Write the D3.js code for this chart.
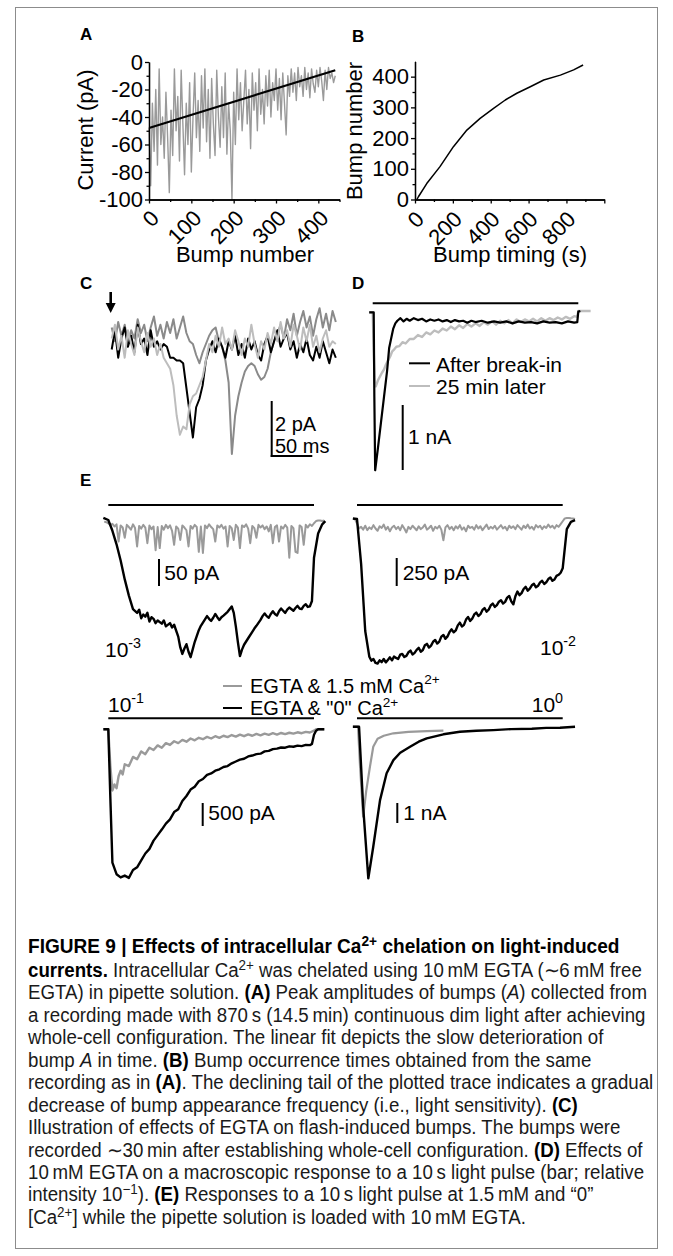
<!DOCTYPE html>
<html>
<head>
<meta charset="utf-8">
<script src="https://cdn.jsdelivr.net/npm/d3@7"></script>
<style>
body { margin: 0; background: #fff; }
svg text { font-family: "Liberation Sans", Arial, Helvetica, sans-serif; }
</style>
</head>
<body>
<svg id="fig" width="673" height="1256"></svg>
<script>

// ---- data ----

// A: peak amplitude (pA) of every 4th bump
var bumpAmp = [-48,-90,-30,-65,-20,-75,-5,-60,-40,-70,-22,-55,-95,-35,-68,-5,-50,-25,-72,-6,
  -45,-82,-30,-60,-15,-80,-40,-8,-55,-28,-65,-10,-48,-5,-58,-20,-70,-12,-45,-68,
  -6,-40,-62,-18,-55,-8,-67,-30,-50,-100,-22,-60,-5,-42,-15,-50,-28,-6,-45,-20,
  -63,-8,-35,-15,-50,-5,-38,-20,-45,-10,-32,-6,-40,-15,-28,-5,-35,-12,-42,-8,
  -30,-53,-10,-25,-5,-22,-8,-28,-4,-18,-10,-25,-4,-20,-8,-26,-5,-16,-22,-6,
  -18,-4,-14,-28,-6,-20,-4,-12,-8,-15,-10];
var bumpStep = 4;
var fitStart = [0, -48], fitEnd = [440, -6];

// B: bump number vs time (s)
var bTime  = [10, 18, 62, 132, 203, 274, 344, 415, 477, 538, 609, 680, 768, 838, 888];
var bCount = [0, 9, 52, 107, 172, 226, 264, 297, 324, 346, 367, 389, 405, 422, 438];

// C: three bumps (pA), sampled every 4 ms
var cStep = 4;
var cLight = [-0.2,0.3,-0.6,-0.1,-0.9,0.1,-0.4,-0.8,0.2,-0.3,-0.7,0.0,-0.5,-0.2,-0.8,-0.4,-0.9,-1.1,-1.3,-1.9,
  -3.0,-3.7,-3.4,-3.5,-2.6,-2.3,-2.2,-1.9,-1.6,-1.0,-0.4,-0.7,-0.1,-0.5,0.2,-0.4,-0.2,-0.6,0.1,-0.3,
  -0.8,-0.2,-0.5,0.3,-0.4,-0.9,-0.3,-0.6,0.0,-0.4,0.2,-0.3,0.4,-0.2,0.1,-0.5,0.3,-0.1,-0.6,0.2,
  -0.3,0.3,-0.5,-0.1,-0.7,-0.2,0.1,-0.5,-0.3,-0.4];
var cBlack = [-0.6,0.1,-0.9,-0.2,0.2,-0.5,-0.1,-0.7,0.3,-0.4,-0.2,-0.8,0.1,-0.5,-0.3,-0.6,-0.4,-0.5,-0.9,-0.9,
  -1.0,-1.0,-1.1,-2.0,-2.9,-3.8,-2.7,-2.4,-1.9,-1.0,-0.6,-0.3,-0.7,-0.2,-0.5,-0.9,-0.3,-0.6,-0.1,-0.8,
  -0.4,-0.9,-0.2,-0.6,-0.3,-0.8,-1.0,-0.4,-0.1,-0.7,-0.3,0.1,-0.5,-0.2,0.0,-0.6,-0.3,-0.9,-0.4,-0.7,
  -0.2,-0.8,-1.0,-0.5,-0.9,-0.3,-0.7,-1.1,-0.6,-0.9];
var cDark = [0.2,-0.3,0.4,-0.1,0.3,-0.4,0.1,-0.2,0.5,0.0,0.3,-0.3,0.2,0.6,-0.1,0.3,-0.2,0.4,0.0,0.5,
  -0.2,0.2,0.6,0.0,-0.3,-0.4,-0.8,-1.1,-0.7,-0.4,-0.1,0.1,0.2,-0.3,-0.5,-1.0,-1.8,-4.4,-3.0,-2.3,
  -1.8,-1.4,-1.2,-1.1,-1.2,-1.5,-1.7,-1.6,-1.3,-0.7,-0.3,0.0,0.3,-0.2,0.5,0.1,0.7,-0.1,0.4,0.8,
  0.2,0.6,-0.1,0.5,0.9,0.2,0.7,0.1,0.8,0.4];

// D: macroscopic response (t s, nA)
var dBlack = [[-0.17,0],[0.05,0],[0.08,-1.3],[0.12,-2.43],[0.25,-2.1],[0.4,-1.7],[0.55,-1.3],[0.7,-0.9],
  [0.8,-0.55],[0.9,-0.4],[1.0,-0.25],[1.1,-0.17],[1.2,-0.13],[1.35,-0.09],[1.5,-0.14],[1.65,-0.1],
  [1.8,-0.13],[2.0,-0.09],[2.2,-0.12],[2.4,-0.1],[2.6,-0.14],[2.8,-0.11],[3.0,-0.13],[3.2,-0.11],
  [3.4,-0.14],[3.6,-0.12],[3.8,-0.15],[4.0,-0.12],[4.2,-0.14],[4.4,-0.13],[4.6,-0.16],[4.8,-0.13],
  [5.0,-0.15],[5.3,-0.13],[5.6,-0.16],[5.9,-0.14],[6.2,-0.16],[6.5,-0.14],[6.8,-0.17],[7.1,-0.14],
  [7.4,-0.16],[7.7,-0.15],[8.0,-0.17],[8.3,-0.14],[8.6,-0.16],[8.9,-0.15],[9.2,-0.17],[9.5,-0.14],
  [9.8,-0.16],[9.95,-0.15],[10.0,0.01],[10.1,0.02]];
var dGray = [[-0.17,0],[0.0,0],[0.05,-0.6],[0.1,-1.1],[0.15,-1.14],[0.25,-1.05],[0.35,-0.99],[0.45,-0.93],
  [0.55,-0.88],[0.65,-0.8],[0.75,-0.74],[0.85,-0.68],[0.95,-0.6],[1.05,-0.57],[1.15,-0.53],[1.3,-0.52],
  [1.45,-0.46],[1.6,-0.48],[1.8,-0.41],[2.0,-0.41],[2.2,-0.35],[2.4,-0.38],[2.6,-0.31],[2.8,-0.34],
  [3.0,-0.28],[3.2,-0.31],[3.4,-0.25],[3.6,-0.28],[3.8,-0.22],[4.0,-0.26],[4.2,-0.2],[4.4,-0.24],
  [4.6,-0.18],[4.8,-0.22],[5.0,-0.17],[5.2,-0.21],[5.4,-0.15],[5.6,-0.19],[5.8,-0.14],[6.0,-0.19],
  [6.2,-0.13],[6.4,-0.17],[6.6,-0.12],[6.8,-0.17],[7.0,-0.11],[7.2,-0.15],[7.4,-0.11],[7.6,-0.14],
  [7.8,-0.1],[8.0,-0.14],[8.2,-0.09],[8.4,-0.13],[8.6,-0.09],[8.8,-0.12],[9.0,-0.08],[9.2,-0.11],
  [9.4,-0.07],[9.6,-0.1],[9.8,-0.06],[9.95,-0.07],[10.0,0.02],[10.6,0.02]];

// E: responses to 10 s pulses (t s, pA or nA)
var eStep = 0.1, eStart = -0.2;
var e1Gray = [-3,-4,-6,-9,-7,-12,-8,-40,-10,-14,-33,-9,-13,-18,-8,-15,-49,-11,-16,-9,
  -14,-43,-10,-17,-12,-56,-13,-52,-11,-18,-9,-15,-10,-20,-46,-12,-16,-37,-10,-14,
  -19,-49,-11,-16,-9,-13,-59,-12,-61,-10,-15,-8,-13,-17,-40,-10,-14,-9,-16,-12,
  -49,-11,-15,-37,-9,-14,-52,-10,-13,-8,-16,-43,-11,-15,-33,-9,-14,-10,-17,-12,
  -21,-9,-43,-13,-10,-40,-12,-16,-9,-14,-70,-11,-15,-59,-61,-10,-13,-46,-9,-14,
  -8,-11,-6,-2,-1,-1,-2,-1];
var e1Black = [[-0.24,4],[0.0,0],[0.2,-20],[0.4,-45],[0.6,-75],[0.8,-110],[1.0,-140],[1.2,-165],
  [1.4,-172],[1.5,-166],[1.6,-182],[1.7,-175],[1.8,-179],[1.9,-172],[2.0,-188],[2.1,-180],[2.2,-183],
  [2.3,-191],[2.4,-186],[2.6,-192],[2.7,-186],[2.8,-197],[3.0,-191],[3.1,-199],[3.2,-194],
  [3.4,-216],[3.5,-236],[3.6,-248],[3.7,-238],[3.8,-230],[3.9,-244],[4.0,-254],[4.1,-240],[4.2,-226],
  [4.4,-204],[4.5,-196],[4.6,-190],[4.7,-184],[4.8,-178],[4.9,-183],
  [5.0,-187],[5.1,-181],[5.2,-174],[5.3,-180],[5.4,-185],[5.5,-180],[5.6,-177],[5.8,-170],[6.0,-160],
  [6.1,-172],[6.2,-197],[6.3,-226],[6.4,-252],[6.5,-240],[6.6,-231],[6.7,-225],
  [6.8,-219],[7.0,-207],[7.1,-201],[7.2,-196],[7.4,-185],[7.5,-178],[7.6,-173],[7.7,-178],[7.8,-181],
  [7.9,-174],[8.0,-169],[8.1,-174],[8.2,-177],[8.3,-169],[8.4,-164],[8.5,-168],
  [8.6,-172],[8.7,-166],[8.8,-162],[9.0,-168],[9.1,-163],[9.2,-159],[9.3,-164],[9.4,-165],[9.5,-159],
  [9.6,-156],[9.7,-161],[9.8,-160],[9.9,-150],[10.0,-70],[10.2,-25],[10.4,-8],[10.55,-2]];
var e2Gray = [0,0,-40,-85,-70,-95,-60,-100,-75,-90,-55,-85,-105,-65,-80,-50,-95,-70,-110,-75,
  -60,-90,-70,-100,-55,-85,-120,-70,-90,-60,-80,-100,-65,-90,-75,-50,-95,-80,-60,-105,
  -70,-85,-60,-95,-190,-75,-55,-90,-70,-100,-65,-85,-55,-95,-75,-110,-60,-80,-70,-95,
  -55,-85,-65,-100,-75,-50,-90,-70,-85,-60,-95,-75,-55,-85,-70,-100,-60,-80,-65,-90,
  -55,-75,-95,-60,-80,-50,-85,-70,-95,-55,-75,-60,-90,-65,-80,-50,-75,-60,-85,-55,
  -70,-45,-20,5,8,8,6,5,0];
var e2Black = [[-0.2,5],[0.0,0],[0.2,-400],[0.4,-1000],[0.6,-1230],[0.7,-1265],[0.8,-1250],[0.9,-1285],
  [1.0,-1290],[1.1,-1262],[1.2,-1278],[1.3,-1250],[1.4,-1280],[1.5,-1258],[1.6,-1235],[1.7,-1262],
  [1.8,-1228],[1.9,-1240],[2.0,-1250],[2.1,-1212],[2.2,-1205],[2.3,-1232],[2.4,-1222],[2.5,-1190],
  [2.6,-1175],[2.7,-1210],[2.8,-1195],[2.9,-1168],[3.0,-1150],[3.1,-1185],[3.2,-1170],[3.3,-1128],
  [3.4,-1115],[3.5,-1148],[3.6,-1130],[3.7,-1096],[3.8,-1080],[3.9,-1112],[4.0,-1095],[4.1,-1050],
  [4.2,-1035],[4.3,-1070],[4.4,-1048],[4.5,-1008],[4.6,-985],[4.7,-1012],[4.8,-995],[4.9,-950],
  [5.0,-925],[5.1,-960],[5.2,-945],[5.3,-898],[5.4,-875],[5.5,-910],[5.6,-890],[5.7,-852],
  [5.8,-835],[5.9,-866],[6.0,-850],[6.1,-812],[6.2,-795],[6.3,-828],[6.4,-810],[6.5,-772],
  [6.6,-755],[6.7,-785],[6.8,-768],[6.9,-738],[7.0,-725],[7.1,-755],[7.2,-740],[7.3,-702],
  [7.4,-688],[7.5,-735],[7.6,-762],[7.7,-690],[7.8,-648],[7.9,-680],[8.0,-662],[8.1,-625],
  [8.2,-606],[8.3,-640],[8.4,-622],[8.5,-592],[8.6,-578],[8.7,-610],[8.8,-596],[8.9,-566],
  [9.0,-552],[9.1,-580],[9.2,-565],[9.3,-536],[9.4,-522],[9.5,-552],[9.6,-540],[9.7,-508],
  [9.8,-498],[9.9,-480],[10.0,-440],[10.2,-90],[10.4,-25],[10.6,-10]];
var e3Gray = [[-0.24,0],[0.0,0],[0.1,-800],[0.2,-1330],[0.3,-1200],[0.4,-1280],[0.5,-1020],[0.6,-900],
  [0.7,-980],[0.8,-760],[1.0,-800],[1.2,-600],[1.4,-650],[1.6,-480],[1.8,-540],[2.0,-400],[2.2,-450],
  [2.4,-350],[2.6,-400],[2.8,-300],[3.0,-340],[3.2,-260],[3.4,-300],[3.6,-230],[3.8,-270],[4.0,-200],
  [4.2,-240],[4.4,-185],[4.6,-215],[4.8,-165],[5.0,-200],[5.2,-150],[5.4,-185],[5.6,-140],[5.8,-170],
  [6.0,-125],[6.2,-160],[6.4,-115],[6.6,-150],[6.8,-110],[7.0,-140],[7.2,-100],[7.4,-130],[7.6,-95],
  [7.8,-120],[8.0,-85],[8.2,-115],[8.4,-80],[8.6,-105],[8.8,-75],[9.0,-95],[9.2,-65],[9.4,-85],
  [9.6,-55],[9.8,-70],[10.0,-30],[10.1,0],[10.5,0]];
var e3Black = [[-0.24,0],[0.0,0],[0.1,-1500],[0.2,-2900],[0.4,-3150],[0.6,-3220],[0.8,-3180],[1.0,-3230],
  [1.2,-3060],[1.4,-3000],[1.6,-2850],[1.8,-2700],[2.0,-2600],[2.2,-2420],[2.4,-2300],[2.6,-2180],
  [2.8,-2050],[3.0,-1960],[3.2,-1800],[3.4,-1740],[3.6,-1560],[3.8,-1450],[4.0,-1310],[4.2,-1250],
  [4.4,-1130],[4.6,-1080],[4.8,-990],[5.0,-960],[5.2,-900],[5.4,-870],[5.6,-820],[5.8,-800],[6.0,-740],
  [6.2,-700],[6.4,-660],[6.6,-640],[6.8,-590],[7.0,-570],[7.2,-540],[7.4,-530],[7.6,-480],[7.8,-470],
  [8.0,-430],[8.2,-420],[8.4,-395],[8.6,-400],[8.8,-370],[9.0,-380],[9.2,-355],[9.4,-365],[9.6,-340],
  [9.8,-345],[9.9,-320],[10.0,-120],[10.1,-30],[10.2,0],[10.5,0]];
var e4Gray = [[-0.2,0],[0.05,0],[0.15,-2.0],[0.3,-4.5],[0.45,-3.2],[0.63,-2.0],[0.79,-1.0],[1.0,-0.6],
  [1.3,-0.45],[1.77,-0.33],[2.5,-0.26],[3.4,-0.22],[4.2,-0.2]];
var e4Black = [[-0.2,0],[0.1,0],[0.3,-4.0],[0.55,-7.58],[0.79,-6.0],[1.12,-3.67],[1.44,-2.33],
  [1.77,-1.67],[2.1,-1.3],[2.58,-1.0],[3.0,-0.75],[3.39,-0.58],[4.2,-0.38],[5.0,-0.25],[5.8,-0.2],
  [6.63,-0.17],[7.5,-0.12],[8.5,-0.1],[9.2,-0.06],[9.87,-0.05],[10.6,0]];

// ---- drawing ----
var svg = d3.select("#fig");
svg.append("rect").attr("x", 15.5).attr("y", 7.5).attr("width", 642).attr("height", 1241)
  .attr("fill", "none").attr("stroke", "#8c8c8c").attr("stroke-width", 1);

function label(x, y, t) {
  svg.append("text").attr("x", x).attr("y", y).text(t)
    .style("font-size", "17px").style("font-weight", "bold");
}
label(80, 40, "A"); label(352, 42, "B"); label(80, 289, "C"); label(352, 289, "D"); label(80, 486, "E");

function trace(data, x, y, color, w) {
  svg.append("path").datum(data)
    .attr("fill", "none").attr("stroke", color).attr("stroke-width", w)
    .attr("stroke-linejoin", "round")
    .attr("d", d3.line().x(function(d) { return x(d[0]); }).y(function(d) { return y(d[1]); }));
}
function onGrid(vals, t0, dt) {
  return vals.map(function(v, i) { return [t0 + i * dt, v]; });
}
function txt(x, y, t, size) {
  return svg.append("text").attr("x", x).attr("y", y).text(t).style("font-size", (size || 21) + "px");
}
function supTxt(x, y, base, sup, size, anchor) {
  var s = size || 21;
  var t = svg.append("text").attr("x", x).attr("y", y).style("font-size", s + "px");
  if (anchor) t.attr("text-anchor", anchor);
  t.append("tspan").text(base);
  t.append("tspan").text(sup).attr("dy", -s * 0.42).style("font-size", (s * 0.68) + "px");
  return t;
}
function hline(x1, x2, y, w) {
  svg.append("line").attr("x1", x1).attr("x2", x2).attr("y1", y).attr("y2", y)
    .attr("stroke", "#000").attr("stroke-width", w || 2);
}
function vline(x, y1, y2, w) {
  svg.append("line").attr("x1", x).attr("x2", x).attr("y1", y1).attr("y2", y2)
    .attr("stroke", "#000").attr("stroke-width", w || 2);
}

function styleAxis(g) {
  g.selectAll("path, line").attr("stroke", "#000").attr("stroke-width", 1.3);
  g.selectAll("text").style("font-size", "22px").attr("fill", "#000")
    .style("font-family", '"Liberation Sans", Arial, sans-serif');
}
function rotateLabels(g, ox, oy) {
  g.selectAll("text").attr("x", 0).attr("y", 0).attr("dy", 0)
    .attr("text-anchor", "end")
    .attr("transform", "translate(" + ox + "," + oy + ") rotate(-45)");
}

// Panel A
var ax = d3.scaleLinear().domain([0, 450]).range([149, 339.5]);
var ay = d3.scaleLinear().domain([-100, 0]).range([199.5, 62]);
trace(onGrid(bumpAmp, 0, bumpStep), ax, ay, "#9a9a9a", 1.4);
trace([fitStart, fitEnd], ax, ay, "#000", 2.2);

var gAy = svg.append("g").attr("transform", "translate(" + ax(0) + ",0)");
gAy.call(d3.axisLeft(ay).tickValues([-100, -80, -60, -40, -20, 0]).tickSize(4).tickSizeOuter(0)
  .tickPadding(2).tickFormat(function(d) { return String(d); }));
styleAxis(gAy);
var gAym = svg.append("g").attr("transform", "translate(" + ax(0) + ",0)");
gAym.call(d3.axisLeft(ay).tickValues([-90, -70, -50, -30, -10]).tickSize(2.5).tickSizeOuter(0).tickFormat(""));
styleAxis(gAym);
var gAx = svg.append("g").attr("transform", "translate(0," + ay(-100) + ")");
gAx.call(d3.axisBottom(ax).tickValues([0, 100, 200, 300, 400]).tickSize(4).tickSizeOuter(0)
  .tickFormat(function(d) { return String(d); }));
styleAxis(gAx); rotateLabels(gAx, 11, 20);
var gAxm = svg.append("g").attr("transform", "translate(0," + ay(-100) + ")");
gAxm.call(d3.axisBottom(ax).tickValues([50, 150, 250, 350, 450]).tickSize(2.5).tickSizeOuter(0).tickFormat(""));
styleAxis(gAxm);
txt(245, 262, "Bump number", 22).attr("text-anchor", "middle");
svg.append("text").attr("transform", "translate(93,130) rotate(-90)").attr("text-anchor", "middle")
  .style("font-size", "22px").text("Current (pA)");

// Panel B
var bx = d3.scaleLinear().domain([0, 1000]).range([415, 604.3]);
var by = d3.scaleLinear().domain([0, 450]).range([199.5, 61.3]);
trace(bTime.map(function(t, i) { return [t, bCount[i]]; }), bx, by, "#000", 1.5);
var gBy = svg.append("g").attr("transform", "translate(" + bx(0) + ",0)");
gBy.call(d3.axisLeft(by).tickValues([0, 100, 200, 300, 400]).tickSize(4).tickSizeOuter(0)
  .tickPadding(2).tickFormat(function(d) { return String(d); }));
styleAxis(gBy);
var gBym = svg.append("g").attr("transform", "translate(" + bx(0) + ",0)");
gBym.call(d3.axisLeft(by).tickValues([50, 150, 250, 350]).tickSize(2.5).tickSizeOuter(0).tickFormat(""));
styleAxis(gBym);
var gBx = svg.append("g").attr("transform", "translate(0," + by(0) + ")");
gBx.call(d3.axisBottom(bx).tickValues([0, 200, 400, 600, 800, 1000]).tickSize(4).tickSizeOuter(0)
  .tickFormat(function(d) { return d < 1000 ? String(d) : ""; }));
styleAxis(gBx); rotateLabels(gBx, 10, 21);
var gBxm = svg.append("g").attr("transform", "translate(0," + by(0) + ")");
gBxm.call(d3.axisBottom(bx).tickValues([100, 300, 500, 700, 900]).tickSize(2.5).tickSizeOuter(0).tickFormat(""));
styleAxis(gBxm);
txt(510, 262, "Bump timing (s)", 22).attr("text-anchor", "middle");
svg.append("text").attr("transform", "translate(362,131) rotate(-90)").attr("text-anchor", "middle")
  .style("font-size", "22px").text("Bump number");

// Panel C
var cx = d3.scaleLinear().domain([0, 50]).range([111.7, 152.3]);
var cy = d3.scaleLinear().domain([0, -2]).range([333, 388]);
trace(onGrid(cDark, 0, cStep), cx, cy, "#8a8a8a", 2);
trace(onGrid(cBlack, 0, cStep), cx, cy, "#000", 2);
trace(onGrid(cLight, 0, cStep), cx, cy, "#bdbdbd", 2);
// flash arrow at t = 0
vline(cx(0) - 1, 292, 305, 2.6);
svg.append("path").attr("d", d3.line()([[cx(0) - 6, 303], [cx(0) + 4, 303], [cx(0) - 1, 313]])).attr("fill", "#000");
// scale bar
var cbx = 271.7, cby = 456;
vline(cbx, cby - (cy(-2) - cy(0)), cby + 1);
hline(cbx - 1, cbx + cx(50) - cx(0), cby);
txt(275, 431, "2 pA", 20);
txt(275, 453, "50 ms", 20);

// Panel D
var dx = d3.scaleLinear().domain([0, 10]).range([372.7, 578.3]);
var dy = d3.scaleLinear().domain([0, -1]).range([312.3, 377.3]);
hline(dx(0), dx(10), 303.3);
trace(dGray.concat([[10.6, 0.02]]), dx, dy, "#bdbdbd", 2.4);
trace(dBlack, dx, dy, "#000", 2.2);
hline(409, 430, 363.3); txt(436, 371.7, "After break-in", 21);
svg.append("line").attr("x1", 409).attr("x2", 430).attr("y1", 386).attr("y2", 386)
  .attr("stroke", "#bdbdbd").attr("stroke-width", 2);
txt(436, 393.5, "25 min later", 21);
vline(402.7, 470 - (dy(-1) - dy(0)), 470);
txt(408, 443.5, "1 nA", 21);

// Panel E
var e1x = d3.scaleLinear().domain([0, 10]).range([108.3, 314]);
var e2x = d3.scaleLinear().domain([0, 10]).range([357, 562.7]);
var e1y = d3.scaleLinear().domain([0, -50]).range([520, 547]);
var e2y = d3.scaleLinear().domain([0, -250]).range([519, 547]);
var e3y = d3.scaleLinear().domain([0, -500]).range([729.3, 752.3]);
var e4y = d3.scaleLinear().domain([0, -1]).range([726.7, 746.7]);

hline(e1x(0), e1x(10), 505); hline(e2x(0), e2x(10), 505);
hline(e1x(0), e1x(10), 718.3); hline(e2x(0), e2x(10), 718.3);

trace(onGrid(e1Gray, eStart, eStep), e1x, e1y, "#9a9a9a", 2);
trace(e1Black, e1x, e1y, "#000", 2.4);
trace(onGrid(e2Gray, eStart, eStep), e2x, e2y, "#9a9a9a", 2);
trace(e2Black, e2x, e2y, "#000", 2.4);
trace(e3Gray, e1x, e3y, "#9a9a9a", 2.4);
trace(e3Black, e1x, e3y, "#000", 2.4);
trace(e4Gray, e2x, e4y, "#9a9a9a", 2.2);
trace(e4Black, e2x, e4y, "#000", 2.4);

vline(159, 586 - (e1y(-50) - e1y(0)), 586); txt(164.3, 580, "50 pA", 21);
vline(396.7, 586 - (e2y(-250) - e2y(0)), 586); txt(402.7, 580, "250 pA", 21);
vline(202.7, 826 - (e3y(-500) - e3y(0)), 826); txt(208.3, 820, "500 pA", 21);
vline(397.3, 823 - (e4y(-1) - e4y(0)), 823); txt(403.3, 819.5, "1 nA", 21);

supTxt(105, 657, "10", "-3");
supTxt(540, 655, "10", "-2");
supTxt(108, 712, "10", "-1");
supTxt(563, 712, "10", "0", 21, "end");

svg.append("line").attr("x1", 223).attr("x2", 242).attr("y1", 686).attr("y2", 686)
  .attr("stroke", "#9a9a9a").attr("stroke-width", 2);
supTxt(250, 692.5, "EGTA & 1.5 mM Ca", "2+", 20);
hline(223, 242, 708);
supTxt(250, 715, "EGTA & \"0\" Ca", "2+", 20);

// ---- caption ----
var capLines = [
  [["FIGURE 9 | Effects of intracellular Ca", "b"], ["2+", "bs"], [" chelation on light-induced", "b"]],
  [["currents.", "b"], [" Intracellular Ca", ""], ["2+", "s"], [" was chelated using 10\u2009mM EGTA (\u223C6\u2009mM free", ""]],
  [["EGTA) in pipette solution. ", ""], ["(A)", "b"], [" Peak amplitudes of bumps (", ""], ["A", "i"], [") collected from", ""]],
  [["a recording made with 870\u2009s (14.5\u2009min) continuous dim light after achieving", ""]],
  [["whole-cell configuration. The linear fit depicts the slow deterioration of", ""]],
  [["bump ", ""], ["A", "i"], [" in time. ", ""], ["(B)", "b"], [" Bump occurrence times obtained from the same", ""]],
  [["recording as in ", ""], ["(A)", "b"], [". The declining tail of the plotted trace indicates a gradual", ""]],
  [["decrease of bump appearance frequency (i.e., light sensitivity). ", ""], ["(C)", "b"]],
  [["Illustration of effects of EGTA on flash-induced bumps. The bumps were", ""]],
  [["recorded \u223C30\u2009min after establishing whole-cell configuration. ", ""], ["(D)", "b"], [" Effects of", ""]],
  [["10\u2009mM EGTA on a macroscopic response to a 10\u2009s light pulse (bar; relative", ""]],
  [["intensity 10", ""], ["\u22121", "s"], ["). ", ""], ["(E)", "b"], [" Responses to a 10\u2009s light pulse at 1.5\u2009mM and \u201C0\u201D", ""]],
  [["[Ca", ""], ["2+", "s"], ["] while the pipette solution is loaded with 10\u2009mM EGTA.", ""]]
];
var capY = [953, 977, 999.5, 1022, 1044.5, 1067, 1089, 1112, 1134, 1157, 1179, 1201, 1224];
var capSize = 19.5;

function captionLine(g, y, segs) {
  var t = g.append("text").attr("x", 0).attr("y", y).style("font-size", capSize + "px")
    .attr("fill", "#1a1a1a");
  var up = 0;
  segs.forEach(function(s) {
    var sp = t.append("tspan").text(s[0]);
    if (s[1].indexOf("b") >= 0) sp.style("font-weight", "bold").attr("fill", "#000");
    if (s[1] == "i") sp.style("font-style", "italic");
    if (s[1].indexOf("s") >= 0) {
      sp.attr("dy", -6.5).style("font-size", (capSize * 0.72) + "px");
      up = 6.5;
    } else if (up) {
      sp.attr("dy", up); up = 0;
    }
  });
  return t;
}
var cap1 = svg.append("g");
var head = captionLine(cap1, capY[0], capLines[0]);
var capRest = svg.append("g");
var lines = capLines.slice(1).map(function(segs, i) { return captionLine(capRest, capY[i + 1], segs); });
var sx1 = 592 / head.node().getComputedTextLength();
cap1.attr("transform", "translate(28,0) scale(" + sx1 + ",1)");
var sx = 618 / lines[2].node().getComputedTextLength();
capRest.attr("transform", "translate(28,0) scale(" + sx + ",1)");

</script>
</body>
</html>
